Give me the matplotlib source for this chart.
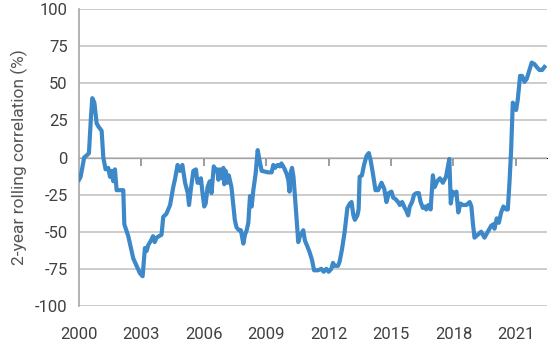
import matplotlib
matplotlib.use('Agg')
import matplotlib.pyplot as plt

# 2-year rolling correlation (%)
years = [
    2000.00, 2000.08, 2000.25, 2000.42, 2000.48, 2000.58, 2000.64, 2000.74, 2000.85, 2000.93,
    2001.09, 2001.17, 2001.28, 2001.41, 2001.49, 2001.57, 2001.65, 2001.73, 2001.81, 2002.13,
    2002.18, 2002.37, 2002.61, 2002.77, 2002.93, 2003.06, 2003.17, 2003.25, 2003.33, 2003.46,
    2003.56, 2003.64, 2003.73, 2003.97, 2004.05, 2004.20, 2004.38, 2004.53, 2004.61, 2004.74,
    2004.85, 2004.97, 2005.10, 2005.23, 2005.29, 2005.38, 2005.50, 2005.62, 2005.70, 2005.78,
    2005.86, 2005.94, 2006.02, 2006.09, 2006.18, 2006.29, 2006.37, 2006.48, 2006.57, 2006.65,
    2006.70, 2006.78, 2006.86, 2006.94, 2006.98, 2007.05, 2007.13, 2007.20, 2007.33, 2007.41,
    2007.49, 2007.57, 2007.69, 2007.78, 2007.90, 2007.98, 2008.06, 2008.14, 2008.22, 2008.30,
    2008.38, 2008.49, 2008.59, 2008.68, 2008.78, 2009.10, 2009.26, 2009.34, 2009.42, 2009.55,
    2009.66, 2009.73, 2009.86, 2009.98, 2010.06, 2010.12, 2010.18, 2010.24, 2010.31, 2010.38,
    2010.46, 2010.54, 2010.62, 2010.70, 2010.78, 2010.86, 2010.98, 2011.09, 2011.20, 2011.30,
    2011.49, 2011.65, 2011.76, 2011.89, 2012.00, 2012.13, 2012.21, 2012.29, 2012.45, 2012.53,
    2012.64, 2012.77, 2012.90, 2013.02, 2013.10, 2013.19, 2013.26, 2013.38, 2013.44, 2013.49,
    2013.60, 2013.70, 2013.82, 2013.93, 2014.02, 2014.13, 2014.25, 2014.38, 2014.54, 2014.67,
    2014.78, 2014.89, 2015.02, 2015.10, 2015.21, 2015.34, 2015.42, 2015.53, 2015.66, 2015.74,
    2015.82, 2015.90, 2016.01, 2016.11, 2016.22, 2016.33, 2016.42, 2016.53, 2016.65, 2016.69,
    2016.80, 2016.90, 2017.01, 2017.09, 2017.22, 2017.35, 2017.49, 2017.64, 2017.80, 2017.87,
    2017.95, 2018.07, 2018.14, 2018.23, 2018.33, 2018.46, 2018.62, 2018.78, 2018.86, 2018.93,
    2019.01, 2019.17, 2019.33, 2019.49, 2019.65, 2019.81, 2019.92, 2019.97, 2020.08, 2020.18,
    2020.29, 2020.40, 2020.53, 2020.61, 2020.69, 2020.77, 2020.85, 2020.93, 2021.01, 2021.09,
    2021.20, 2021.30, 2021.41, 2021.52, 2021.65, 2021.76, 2021.89, 2022.00, 2022.13, 2022.26,
    2022.37,
]
corr = [
    -15, -13, 0, 2, 3, 28, 40, 37, 23, 21,
    18, 0, -8, -7, -13, -9, -16, -8, -22, -22,
    -45, -53, -68, -73, -78, -80, -61, -63, -59, -56,
    -53, -57, -54, -52, -40, -38, -32, -20, -15, -5,
    -9, -5, -17, -24, -32, -21, -9, -8, -17, -17,
    -14, -24, -33, -31, -20, -16, -24, -6, -9, -8,
    -15, -8, -14, -7, -18, -9, -17, -12, -20, -31,
    -42, -47, -49, -49, -58, -52, -49, -44, -26, -33,
    -22, -11, 5, -2, -9, -10, -10, -5, -7, -5,
    -6, -4, -7, -11, -15, -23, -10, -7, -13, -26,
    -42, -57, -53, -51, -49, -56, -60, -64, -69, -76,
    -76, -75, -77, -75, -77, -75, -71, -73, -73, -70,
    -62, -50, -34, -31, -30, -39, -42, -39, -35, -13,
    -12, -5, 1, 3, -2, -11, -22, -22, -17, -21,
    -30, -24, -23, -27, -28, -30, -32, -30, -34, -36,
    -39, -33, -30, -25, -24, -24, -30, -34, -33, -35,
    -32, -35, -12, -20, -16, -14, -17, -13, -1, -31,
    -23, -25, -23, -37, -31, -32, -32, -30, -33, -44,
    -54, -52, -50, -54, -50, -46, -45, -48, -41, -44,
    -37, -33, -35, -35, -17, 5, 37, 35, 32, 39,
    55, 55, 51, 53, 59, 64, 63, 61, 59, 59,
    61,
]
xticks = [2000, 2003, 2006, 2009, 2012, 2015, 2018, 2021]
yticks = [-100, -75, -50, -25, 0, 25, 50, 75, 100]

plt.rcParams['font.family'] = ['Roboto', 'DejaVu Sans']
plt.rcParams['axes.unicode_minus'] = False

fig = plt.figure(figsize=(5.6, 3.52), dpi=100)
ax = fig.add_axes([0.141, 0.131, 0.836, 0.843])

ax.plot(years, corr, color='#3C88C8', linewidth=3.0, solid_joinstyle='round', zorder=3)

ax.set_xlim(2000, 2022.5)
ax.set_ylim(-100, 100)
ax.set_yticks(yticks)
ax.set_xticks(xticks)
ax.set_xticklabels([str(t) for t in xticks])

ax.grid(axis='y', color='#c4c4c4', linewidth=1.2)
ax.set_axisbelow(True)
for s in ['top', 'right', 'bottom']:
    ax.spines[s].set_visible(False)
ax.spines['left'].set_color('#a6a6a6')
ax.spines['left'].set_linewidth(1.2)

ax.tick_params(axis='x', length=0, pad=15, labelsize=12, labelcolor='#404040')
ax.tick_params(axis='y', length=0, pad=8, labelsize=12, labelcolor='#404040')
ax.set_ylabel('2-year rolling correlation (%)', fontsize=12.5, color='#555555', labelpad=5)

# zero line with small upward tick marks
zero = ax.secondary_xaxis(0.5)
zero.set_xticks(xticks[1:])
zero.set_xticklabels([])
zero.tick_params(direction='in', length=6, width=1.2, color='#8c8c8c')
zero.spines['bottom'].set_color('#8c8c8c')
zero.spines['bottom'].set_linewidth(1.2)

plt.savefig('out.png', dpi=100)
